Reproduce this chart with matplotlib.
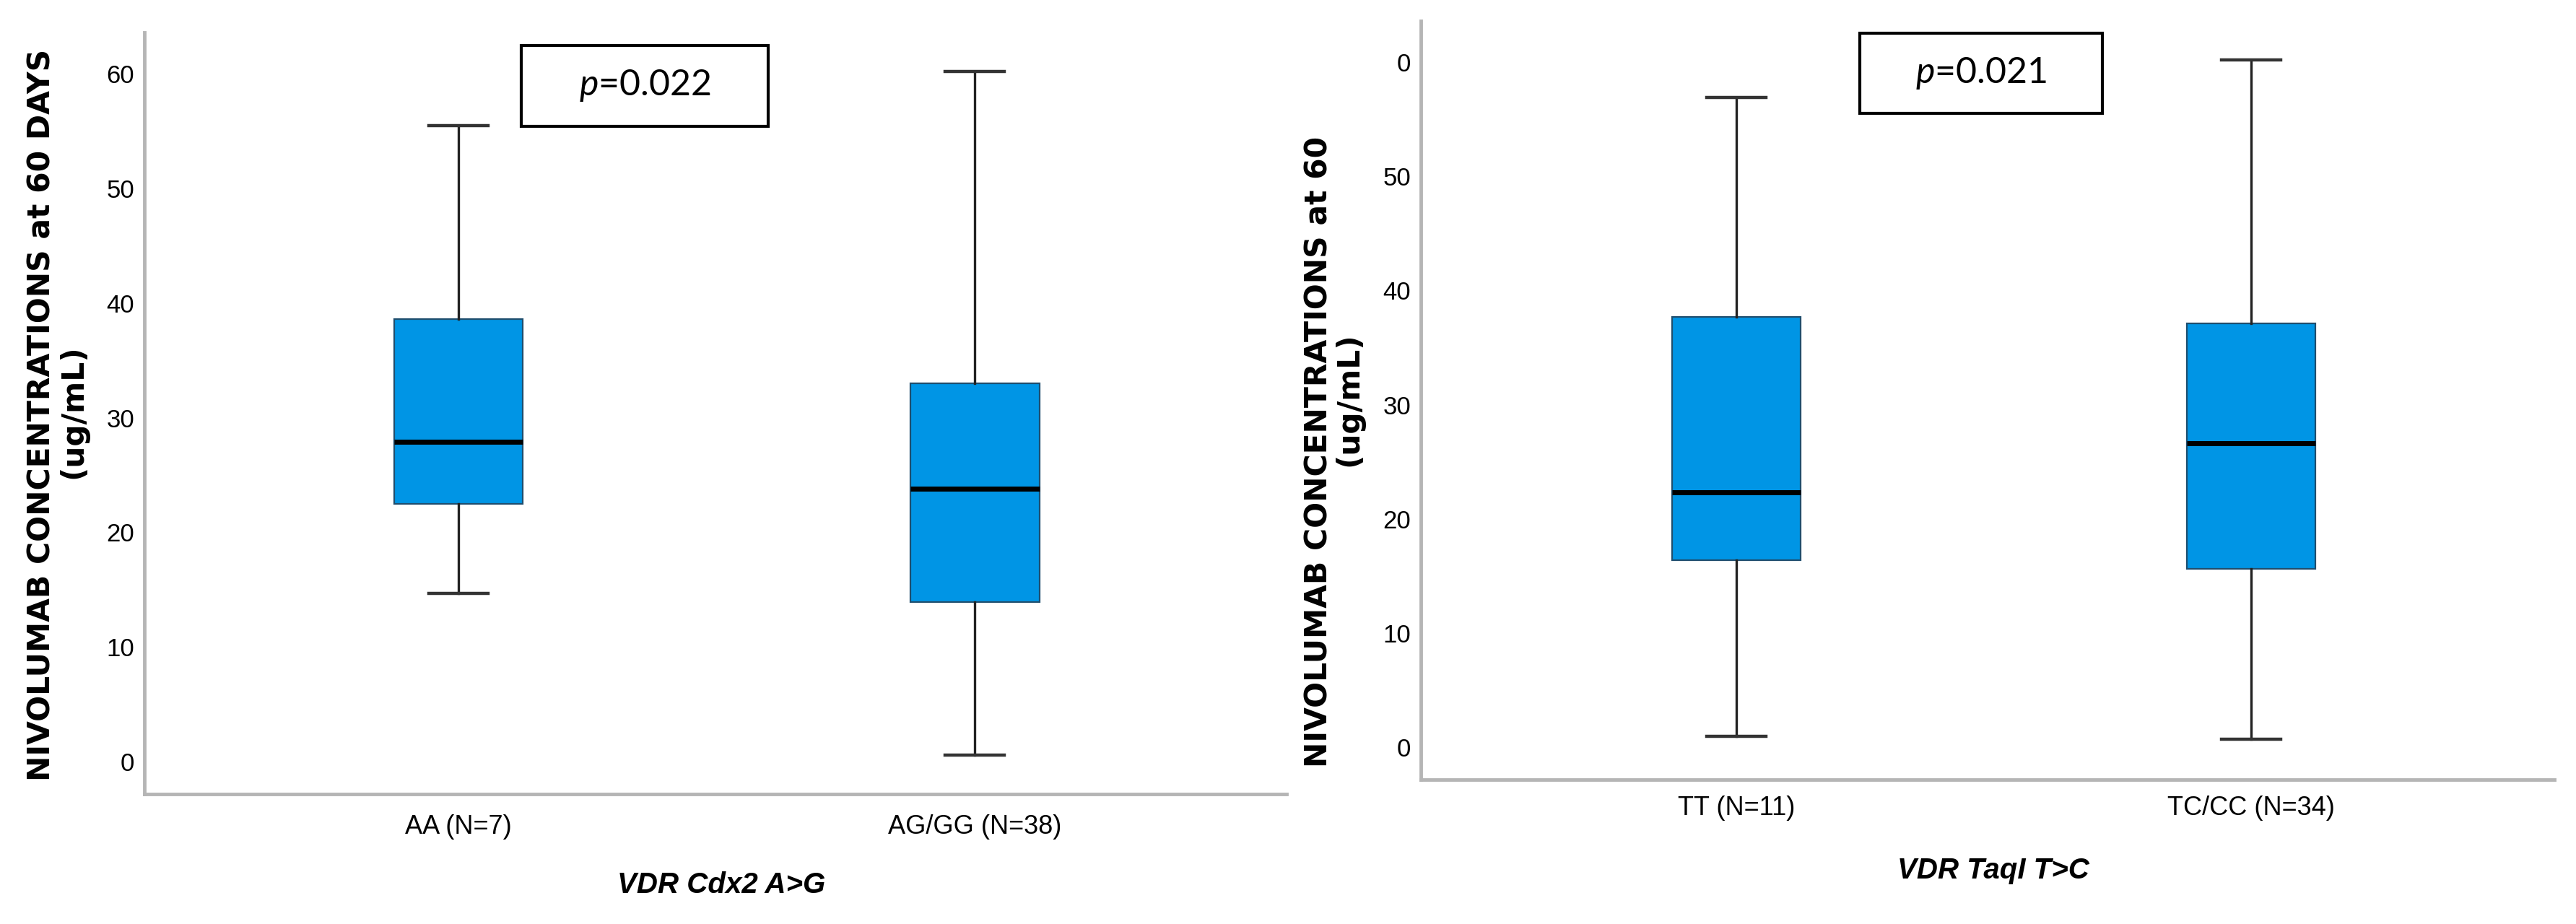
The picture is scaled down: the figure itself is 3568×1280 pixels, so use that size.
import matplotlib
matplotlib.use("Agg")
import matplotlib.pyplot as plt
from matplotlib.patches import Rectangle

# ── data ─────────────────────────────────────────────────────────────────────
left_groups = ["AA (N=7)", "AG/GG (N=38)"]
left_whislo = [14.7, 0.6]
left_q1 = [22.5, 13.9]
left_med = [27.9, 23.8]
left_q3 = [38.6, 33.0]
left_whishi = [55.5, 60.2]
left_xlabel = "VDR Cdx2 A>G"
left_pval = "0.022"

right_groups = ["TT (N=11)", "TC/CC (N=34)"]
right_whislo = [0.97, 0.7]
right_q1 = [16.4, 15.6]
right_med = [22.3, 26.6]
right_q3 = [37.7, 37.1]
right_whishi = [56.9, 60.2]
right_xlabel = "VDR TaqI T>C"
right_pval = "0.021"

yticks = [0, 10, 20, 30, 40, 50, 60]
left_yticklabels = ["0", "10", "20", "30", "40", "50", "60"]
right_yticklabels = ["0", "10", "20", "30", "40", "50", "0"]  # top label clipped in source

ylab_main_left = "NIVOLUMAB CONCENTRATIONS at 60 DAYS"
ylab_main_right = "NIVOLUMAB CONCENTRATIONS at 60"
ylab_unit = "(ug/mL)"

# ── style ────────────────────────────────────────────────────────────────────
BOX_FILL = "#0095e5"
BOX_EDGE = "#1f4e6e"
AXIS_GREY = "#b5b5b5"

plt.rcParams["font.family"] = ["Liberation Sans", "DejaVu Sans"]
plt.rcParams["mathtext.fontset"] = "custom"
plt.rcParams["mathtext.it"] = "Lato:italic"
plt.rcParams["mathtext.rm"] = "Lato"

fig = plt.figure(figsize=(35.68, 12.8), dpi=100)
ax_l = fig.add_axes([0.0561, 0.1406, 0.4434, 0.8242])
ax_r = fig.add_axes([0.5516, 0.1563, 0.4400, 0.8210])


def stats(groups, lo, q1, med, q3, hi):
    return [{"label": g, "whislo": a, "q1": b, "med": c, "q3": d, "whishi": e, "fliers": []}
            for g, a, b, c, d, e in zip(groups, lo, q1, med, q3, hi)]


def draw_panel(ax, st, xlim, ticklabels, xlabel, xlabel_y, xpad, pval, pbox):
    ax.bxp(st, positions=[1, 2], widths=0.25, capwidths=0.115, patch_artist=True,
           showfliers=False,
           boxprops=dict(facecolor=BOX_FILL, edgecolor=BOX_EDGE, linewidth=1.6),
           medianprops=dict(color="black", linewidth=5, solid_capstyle="butt"),
           whiskerprops=dict(color="#222222", linewidth=2.4),
           capprops=dict(color="#333333", linewidth=3.2))
    ax.set_xlim(*xlim)
    ax.set_ylim(-2.83, 63.6)
    ax.set_yticks(yticks)
    ax.set_yticklabels(ticklabels)
    for s in ("top", "right"):
        ax.spines[s].set_visible(False)
    for s in ("left", "bottom"):
        ax.spines[s].set_color(AXIS_GREY)
        ax.spines[s].set_linewidth(3.5)
    ax.tick_params(axis="y", length=0, pad=10, labelsize=25)
    ax.tick_params(axis="x", length=0, pad=xpad, labelsize=26)
    ax.set_xlabel(xlabel, fontsize=29, fontweight="bold", fontstyle="italic")
    ax.xaxis.set_label_coords(0.505, xlabel_y)
    ax.xaxis.label.set_va("center")

    x0, x1, y0, y1 = pbox
    ax.add_patch(Rectangle((x0, y0), x1 - x0, y1 - y0, transform=ax.transAxes,
                           facecolor="white", edgecolor="black", linewidth=3, zorder=5))
    ax.text((x0 + x1) / 2, (y0 + y1) / 2, "$p$=" + pval, transform=ax.transAxes,
            ha="center", va="center", fontsize=36, family="Lato", zorder=6)


draw_panel(ax_l, stats(left_groups, left_whislo, left_q1, left_med, left_q3, left_whishi),
           (0.392, 2.604), left_yticklabels, left_xlabel, -0.119, 20, left_pval,
           (0.330, 0.546, 0.877, 0.983))
draw_panel(ax_r, stats(right_groups, right_whislo, right_q1, right_med, right_q3, right_whishi),
           (0.387, 2.589), right_yticklabels, right_xlabel, -0.12, 16, right_pval,
           (0.387, 0.601, 0.878, 0.984))

ylab_kw = dict(rotation=90, ha="center", va="center", fontsize=30.5,
               fontweight="bold", family="DejaVu Sans")
fig.text(0.0160, 0.5508, ylab_main_left, **ylab_kw)
fig.text(0.0283, 0.5547, ylab_unit, **ylab_kw)
fig.text(0.5120, 0.5109, ylab_main_right, **ylab_kw)
fig.text(0.5236, 0.5680, ylab_unit, **ylab_kw)

fig.savefig("out.png", dpi=100, facecolor="white")
